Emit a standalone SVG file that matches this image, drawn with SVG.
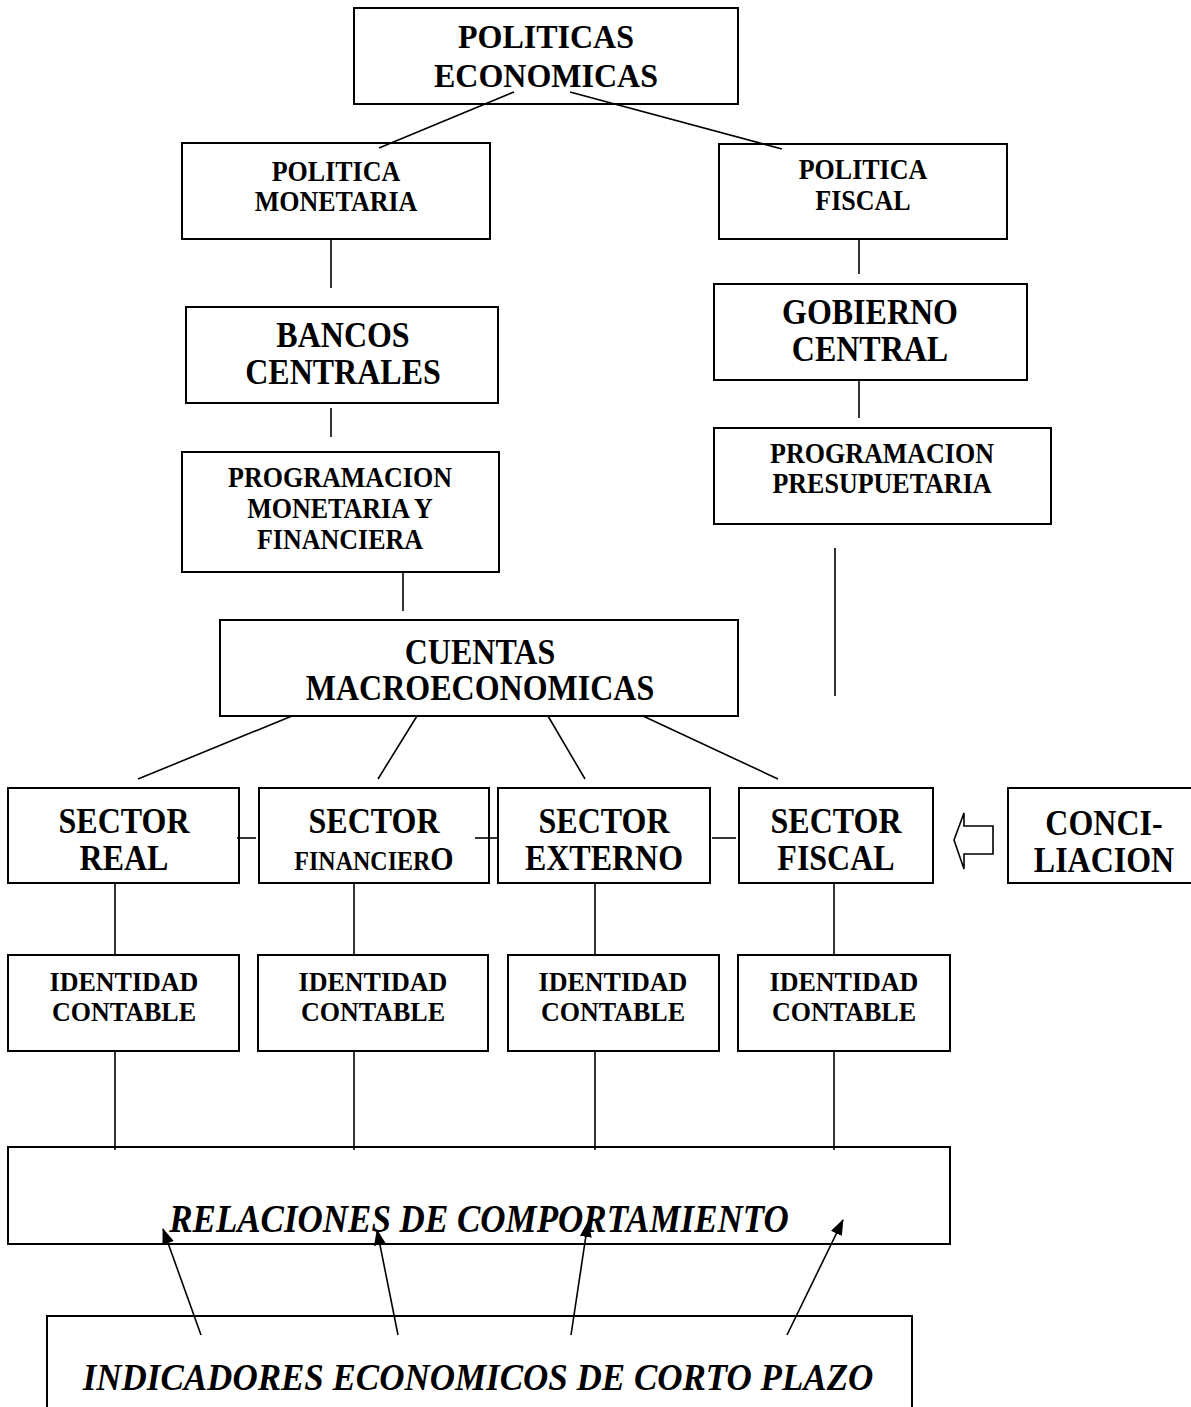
<svg xmlns="http://www.w3.org/2000/svg" width="1191" height="1407" viewBox="0 0 1191 1407">
<style>
.box{fill:none;stroke:#000;stroke-width:2}
.ln{fill:none;stroke:#000;stroke-width:1.6}
.t{font-family:"Liberation Serif","Times New Roman",serif;font-weight:bold;text-anchor:middle;fill:#000}
.l{font-size:32px}
.s{font-size:26px}
.i{font-size:35px;font-style:italic}
</style>
<defs>
<marker id="ah" markerUnits="userSpaceOnUse" markerWidth="16" markerHeight="14" refX="15" refY="6" orient="auto">
<path d="M0,0 L16,6 L0,12 Z" fill="#000"/>
</marker>
</defs>
<rect width="1191" height="1407" fill="#fff"/>
<g id="connectors">
<line class="ln" x1="514" y1="92" x2="379" y2="148"/>
<line class="ln" x1="570" y1="92" x2="782" y2="149"/>
<line class="ln" x1="331" y1="239" x2="331" y2="288"/>
<line class="ln" x1="331" y1="408" x2="331" y2="437"/>
<line class="ln" x1="403" y1="572" x2="403" y2="611"/>
<line class="ln" x1="859" y1="239" x2="859" y2="274"/>
<line class="ln" x1="859" y1="380" x2="859" y2="418"/>
<line class="ln" x1="835" y1="548" x2="835" y2="696"/>
<line class="ln" x1="292" y1="716" x2="138" y2="779"/>
<line class="ln" x1="417" y1="716" x2="378" y2="779"/>
<line class="ln" x1="548" y1="716" x2="585" y2="779"/>
<line class="ln" x1="643" y1="716" x2="778" y2="779"/>
<line class="ln" x1="237" y1="838" x2="256" y2="838"/>
<line class="ln" x1="475" y1="838" x2="498" y2="838"/>
<line class="ln" x1="712" y1="838" x2="736" y2="838"/>
<line class="ln" x1="115" y1="883" x2="115" y2="955"/>
<line class="ln" x1="354" y1="883" x2="354" y2="955"/>
<line class="ln" x1="595" y1="883" x2="595" y2="955"/>
<line class="ln" x1="834" y1="883" x2="834" y2="955"/>
<line class="ln" x1="115" y1="1051" x2="115" y2="1150"/>
<line class="ln" x1="354" y1="1051" x2="354" y2="1150"/>
<line class="ln" x1="595" y1="1051" x2="595" y2="1150"/>
<line class="ln" x1="834" y1="1051" x2="834" y2="1150"/>
<polygon class="ln" points="954,840 964,813 964,826 993,826 993,854 964,854 964,869"/>
<line class="ln" x1="201" y1="1335" x2="163" y2="1229" marker-end="url(#ah)"/>
<line class="ln" x1="398" y1="1335" x2="377" y2="1230" marker-end="url(#ah)"/>
<line class="ln" x1="571" y1="1335" x2="588" y2="1222" marker-end="url(#ah)"/>
<line class="ln" x1="787" y1="1335" x2="843" y2="1220" marker-end="url(#ah)"/>
</g>
<g id="politicas-economicas">
<rect class="box" x="354" y="8" width="384" height="96"/>
<text class="t l" transform="translate(546,48) scale(1,1.08)">POLITICAS</text>
<text class="t l" transform="translate(546,87) scale(1,1.08)">ECONOMICAS</text>
</g>
<g id="politica-monetaria">
<rect class="box" x="182" y="143" width="308" height="96"/>
<text class="t s" transform="translate(336,181) scale(1,1.1)">POLITICA</text>
<text class="t s" transform="translate(336,211) scale(1,1.1)">MONETARIA</text>
</g>
<g id="politica-fiscal">
<rect class="box" x="719" y="144" width="288" height="95"/>
<text class="t s" transform="translate(863,179) scale(1,1.1)">POLITICA</text>
<text class="t s" transform="translate(863,210) scale(1,1.1)">FISCAL</text>
</g>
<g id="bancos-centrales">
<rect class="box" x="186" y="307" width="312" height="96"/>
<text class="t l" transform="translate(343,347) scale(1,1.1)">BANCOS</text>
<text class="t l" transform="translate(343,384) scale(1,1.1)">CENTRALES</text>
</g>
<g id="gobierno-central">
<rect class="box" x="714" y="284" width="313" height="96"/>
<text class="t l" transform="translate(870,324) scale(1,1.1)">GOBIERNO</text>
<text class="t l" transform="translate(870,361) scale(1,1.1)">CENTRAL</text>
</g>
<g id="programacion-monetaria">
<rect class="box" x="182" y="452" width="317" height="120"/>
<text class="t s" transform="translate(340,487) scale(1,1.1)">PROGRAMACION</text>
<text class="t s" transform="translate(340,518) scale(1,1.1)">MONETARIA Y</text>
<text class="t s" transform="translate(340,549) scale(1,1.1)">FINANCIERA</text>
</g>
<g id="programacion-presupuetaria">
<rect class="box" x="714" y="428" width="337" height="96"/>
<text class="t s" transform="translate(882,463) scale(1,1.1)">PROGRAMACION</text>
<text class="t s" transform="translate(882,493) scale(1,1.1)">PRESUPUETARIA</text>
</g>
<g id="cuentas-macroeconomicas">
<rect class="box" x="220" y="620" width="518" height="96"/>
<text class="t l" transform="translate(480,664) scale(1,1.12)">CUENTAS</text>
<text class="t l" transform="translate(480,700) scale(1,1.12)">MACROECONOMICAS</text>
</g>
<g id="sector-real">
<rect class="box" x="8" y="788" width="231" height="95"/>
<text class="t l" transform="translate(124,833) scale(1,1.1)">SECTOR</text>
<text class="t l" transform="translate(124,870) scale(1,1.1)">REAL</text>
</g>
<g id="sector-financiero">
<rect class="box" x="259" y="788" width="230" height="95"/>
<text class="t l" transform="translate(374,833) scale(1,1.1)">SECTOR</text>
<text class="t" transform="translate(374,870) scale(1,1.1)"><tspan font-size="24">FINANCIER</tspan><tspan font-size="30">O</tspan></text>
</g>
<g id="sector-externo">
<rect class="box" x="498" y="788" width="212" height="95"/>
<text class="t l" transform="translate(604,833) scale(1,1.1)">SECTOR</text>
<text class="t l" transform="translate(604,870) scale(1,1.1)">EXTERNO</text>
</g>
<g id="sector-fiscal">
<rect class="box" x="739" y="788" width="194" height="95"/>
<text class="t l" transform="translate(836,833) scale(1,1.1)">SECTOR</text>
<text class="t l" transform="translate(836,870) scale(1,1.1)">FISCAL</text>
</g>
<g id="conciliacion">
<rect class="box" x="1008" y="788" width="200" height="95"/>
<text class="t l" transform="translate(1104,835) scale(1,1.1)">CONCI-</text>
<text class="t l" transform="translate(1104,872) scale(1,1.1)">LIACION</text>
</g>
<g id="identidad-1">
<rect class="box" x="8" y="955" width="231" height="96"/>
<text class="t s" transform="translate(124,991) scale(1,1.06)">IDENTIDAD</text>
<text class="t s" transform="translate(124,1021) scale(1,1.06)">CONTABLE</text>
</g>
<g id="identidad-2">
<rect class="box" x="258" y="955" width="230" height="96"/>
<text class="t s" transform="translate(373,991) scale(1,1.06)">IDENTIDAD</text>
<text class="t s" transform="translate(373,1021) scale(1,1.06)">CONTABLE</text>
</g>
<g id="identidad-3">
<rect class="box" x="508" y="955" width="211" height="96"/>
<text class="t s" transform="translate(613,991) scale(1,1.06)">IDENTIDAD</text>
<text class="t s" transform="translate(613,1021) scale(1,1.06)">CONTABLE</text>
</g>
<g id="identidad-4">
<rect class="box" x="738" y="955" width="212" height="96"/>
<text class="t s" transform="translate(844,991) scale(1,1.06)">IDENTIDAD</text>
<text class="t s" transform="translate(844,1021) scale(1,1.06)">CONTABLE</text>
</g>
<g id="relaciones">
<rect class="box" x="8" y="1147" width="942" height="97"/>
<text class="t i" transform="translate(479,1232) scale(1,1.15)">RELACIONES DE COMPORTAMIENTO</text>
</g>
<g id="indicadores">
<rect class="box" x="47" y="1316" width="865" height="110"/>
<text class="t i" transform="translate(478,1390) scale(1,1.1)">INDICADORES ECONOMICOS DE CORTO PLAZO</text>
</g>
</svg>
